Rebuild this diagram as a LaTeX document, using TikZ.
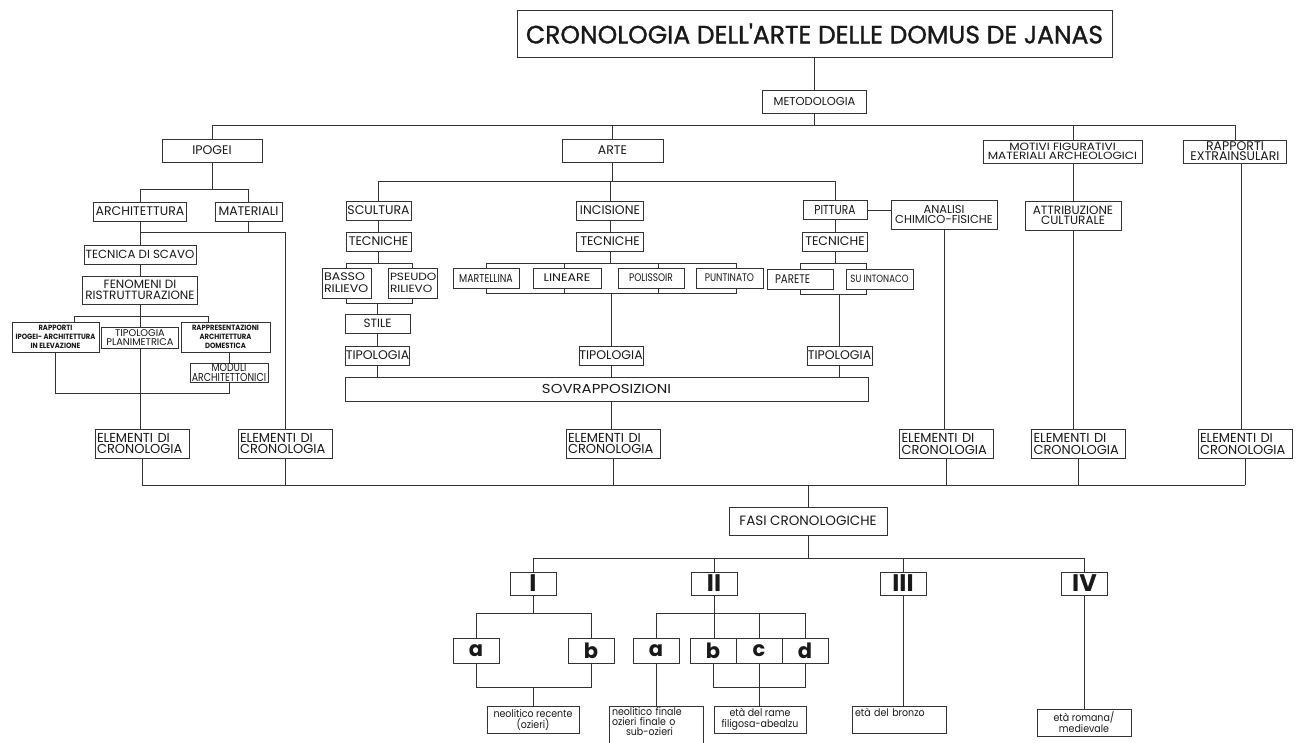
\documentclass[tikz,border=0pt]{standalone}
\usepackage{fontspec}
\usetikzlibrary{calc}
\newfontfamily\ffR{Poppins}
\newfontfamily\ffA[FakeStretch=0.7]{Poppins}
\newfontfamily\ffC[FakeStretch=0.82]{Poppins}
\newfontfamily\ffN[FakeStretch=0.9]{Poppins}
\newfontfamily\ffW[FakeStretch=1.15]{Poppins}
\newfontfamily\ffT[FakeBold=1.2]{Poppins}
\newcommand\fsz[2]{\fontsize{#1}{#2}\selectfont}
\begin{document}
\begin{tikzpicture}[x=1pt,y=-1pt,
  box/.style={draw=black!80, line width=0.8pt, rectangle, inner sep=0pt, align=center, text=black!90},
  sz/.style 2 args={minimum width=#1, minimum height=#2},
  tiny/.style={font=\ffN\bfseries\fsz{7.6}{9}},
  rom/.style={font=\ffR\bfseries\fsz{24}{24}},
  lett/.style={font=\ffR\bfseries\fsz{21}{21}},
  low/.style={font=\ffN\fsz{10.5}{11}},
  elem/.style={box, text width=90pt, inner xsep=2pt, minimum height=29pt, align=left, font=\ffR\fsz{13}{11.5}},
  ln/.style={draw=black!80, line width=0.8pt}
]
\fill[white] (0,0) rectangle (1296,742);
\useasboundingbox (0,0) rectangle (1296,742);
\clip (0,0) rectangle (1296,742);

% ---------- top ----------
\node[box, sz={595}{47}, font=\ffT\fsz{25}{30}] (title) at (814.5,33.5) {CRONOLOGIA DELL'ARTE DELLE DOMUS DE JANAS};
\node[box, sz={104}{23}, font=\ffR\fsz{11.5}{11.5}] (meto) at (814.5,101.5) {METODOLOGIA};
\node[box, sz={100}{23}, font=\ffR\fsz{12.5}{12.5}] (ipogei) at (212,150.5) {IPOGEI};
\node[box, sz={101}{23}, font=\ffR\fsz{12.5}{12.5}] (arte) at (612.5,150.5) {ARTE};
\node[box, sz={159}{23}, font=\ffW\fsz{10.5}{9}] (motivi) at (1062.5,151.5) {MOTIVI FIGURATIVI\\MATERIALI ARCHEOLOGICI};
\node[box, sz={103}{23}, font=\ffR\fsz{12.5}{10}] (rapporti) at (1235,151.5) {RAPPORTI\\EXTRAINSULARI};

% ---------- ipogei ----------
\node[box, sz={93}{19}, font=\ffR\fsz{12.5}{12.5}] (arch) at (140,211.5) {ARCHITETTURA};
\node[box, sz={67}{19}, font=\ffR\fsz{12.5}{12.5}] (mat) at (248.5,211.5) {MATERIALI};
\node[box, sz={112}{19}, font=\ffR\fsz{11.8}{11.8}] (tecnica) at (140,254.5) {TECNICA DI SCAVO};
\node[box, sz={115}{28}, font=\ffR\fsz{12}{11.5}] (fenom) at (140,290) {FENOMENI DI\\RISTRUTTURAZIONE};
\node[box, sz={87}{30}, tiny] (rapp) at (55.5,337) {RAPPORTI\\IPOGEI- ARCHITETTURA\\IN ELEVAZIONE};
\node[box, sz={77}{21}, font=\ffR\fsz{9.8}{9.5}] (tipol) at (140,337.5) {TIPOLOGIA\\PLANIMETRICA};
\node[box, sz={89}{30}, tiny] (rappr) at (225.5,337) {RAPPRESENTAZIONI\\ARCHITETTURA\\DOMESTICA};
\node[box, sz={78}{19}, font=\ffC\fsz{11.5}{9.5}] (moduli) at (229,372.5) {MODULI\\ARCHITETTONICI};
\node[elem] (elem1) at (142,443.5) {ELEMENTI DI\\CRONOLOGIA};
\node[elem] (elem2) at (285,443.5) {ELEMENTI DI\\CRONOLOGIA};

% ---------- arte ----------
\node[box, sz={65}{19}, font=\ffR\fsz{12.5}{12.5}] (scult) at (378.5,210.5) {SCULTURA};
\node[box, sz={67}{19}, font=\ffR\fsz{12.5}{12.5}] (incis) at (610,210.5) {INCISIONE};
\node[box, sz={64}{19}, font=\ffC\fsz{13}{13}] (pitt) at (835,210) {PITTURA};
\node[box, sz={65}{19}, font=\ffR\fsz{12.5}{12.5}] (tec1) at (378.5,241.5) {TECNICHE};
\node[box, sz={67}{19}, font=\ffR\fsz{12.5}{12.5}] (tec2) at (610,241.5) {TECNICHE};
\node[box, sz={65}{19}, font=\ffR\fsz{12.5}{12.5}] (tec3) at (835,241.5) {TECNICHE};
\node[box, text width=45pt, inner xsep=2pt, minimum height=30pt, align=left, font=\ffW\fsz{11}{12}] (basso) at (346.5,283) {BASSO\\RILIEVO};
\node[box, text width=45pt, inner xsep=2pt, minimum height=30pt, align=left, font=\ffW\fsz{10.5}{12}] (pseudo) at (412.5,283) {PSEUDO\\RILIEVO};
\node[box, sz={65}{19}, font=\ffR\fsz{12}{12}] (stile) at (377.5,323.5) {STILE};
\node[box, sz={63}{19}, font=\ffR\fsz{12.5}{12.5}] (tipo1) at (377.5,355.5) {TIPOLOGIA};
\node[box, sz={66}{20}, font=\ffC\fsz{11.5}{11.5}] (martel) at (486,278) {MARTELLINA};
\node[box, sz={68}{20}, font=\ffW\fsz{11}{11}] (lineare) at (567,278) {LINEARE};
\node[box, sz={66}{20}, font=\ffC\fsz{11}{11}] (poliss) at (651,278) {POLISSOIR};
\node[box, sz={67}{20}, font=\ffC\fsz{11}{11}] (puntin) at (729.5,278) {PUNTINATO};
\node[box, text width=50pt, inner xsep=8pt, minimum height=20pt, align=left, font=\ffC\fsz{12.5}{12.5}] (parete) at (800,279) {PARETE};
\node[box, sz={67}{20}, font=\ffC\fsz{10.5}{10.5}] (suinton) at (879.5,279) {SU INTONACO};
\node[box, sz={64}{19}, font=\ffR\fsz{12.5}{12.5}] (tipo2) at (611,355.5) {TIPOLOGIA};
\node[box, sz={65}{19}, font=\ffR\fsz{12.5}{12.5}] (tipo3) at (839.5,355.5) {TIPOLOGIA};
\node[box, sz={523}{24}, font=\ffW\fsz{13}{13}] (sovr) at (606.5,389) {SOVRAPPOSIZIONI};
\node[elem] (elem3) at (613,443.5) {ELEMENTI DI\\CRONOLOGIA};
\node[box, sz={106}{29}, font=\ffR\fsz{11.5}{10}] (analisi) at (944,214.5) {ANALISI\\CHIMICO-FISICHE};
\node[elem] (elem4) at (946.5,444) {ELEMENTI DI\\CRONOLOGIA};
\node[box, sz={96}{29}, font=\ffR\fsz{12}{10}] (attr) at (1073,215.5) {ATTRIBUZIONE\\CULTURALE};
\node[elem] (elem5) at (1078.5,444) {ELEMENTI DI\\CRONOLOGIA};
\node[elem] (elem6) at (1245,444) {ELEMENTI DI\\CRONOLOGIA};

% ---------- fasi ----------
\node[box, sz={158}{28}, font=\ffR\fsz{13.5}{13.5}] (fasi) at (808,521) {FASI CRONOLOGICHE};
\node[box, sz={46}{23}, rom] (f1) at (533,583.5) {I};
\node[box, sz={46}{23}, rom] (f2) at (714,583.5) {II};
\node[box, sz={46}{23}, rom] (f3) at (903,583.5) {III};
\node[box, sz={46}{23}, rom] (f4) at (1084.5,583.5) {IV};
\node[box, sz={46}{25}, lett] (aI) at (476,650.5) {a};
\node[box, sz={46}{25}, lett] (bI) at (591,650.5) {b};
\node[box, sz={46}{25}, lett] (aII) at (656,650.5) {a};
\node[box, sz={46}{25}, lett] (bII) at (713,650.5) {b};
\node[box, sz={46}{25}, lett] (cII) at (759,650.5) {c};
\node[box, sz={46}{25}, lett] (dII) at (805,650.5) {d};
\node[box, sz={92}{27}, low] (neorec) at (533,719.5) {neolitico recente\\(ozieri)};
\node[anchor=north, text width=89pt, inner xsep=2pt, inner ysep=1.5pt, align=left, font=\ffN\fsz{10.5}{10}, text=black!90] (neofin) at (656.5,706) {neolitico finale\\ozieri finale o\\\hspace*{14pt}sub-ozieri};
\draw[ln] (neofin.north west) rectangle ($(neofin.north east)+(0,50)$);
\node[box, sz={92}{27}, low] (rame) at (760,719.5) {età del rame\\filigosa-abealzu};
\node[box, text width=88pt, inner xsep=3pt, minimum height=27pt, align=left, low] (bronzo) at (899,719.5) {età del bronzo\\[4pt]\mbox{}};
\node[box, sz={94}{27}, low] (romana) at (1084,722.5) {età romana/\\medievale};

% ---------- connectors: top ----------
\coordinate (tb) at (0,125);
\draw[ln] (title.south) -- (meto.north);
\draw[ln] (meto.south) -- (meto.south|-tb);
\draw[ln] (ipogei.north|-tb) -- (rapporti.north|-tb);
\draw[ln] (ipogei.north|-tb) -- (ipogei.north);
\draw[ln] (arte.north|-tb) -- (arte.north);
\draw[ln] (attr.north|-tb) -- (attr.north|-motivi.north);
\draw[ln] (rapporti.north|-tb) -- (rapporti.north);

% ipogei
\coordinate (ib) at (0,189);
\coordinate (mb2) at (0,232);
\coordinate (fb) at (0,316);
\coordinate (lb) at (0,393);
\draw[ln] (ipogei.south) -- (ipogei.south|-ib);
\draw[ln] (arch.north|-ib) -- (mat.north|-ib);
\draw[ln] (arch.north|-ib) -- (arch.north);
\draw[ln] (mat.north|-ib) -- (mat.north);
\draw[ln] (arch.south) -- (tecnica.north);
\draw[ln] (mat.south) -- (mat.south|-mb2);
\draw[ln] (arch.south|-mb2) -- (elem2.north|-mb2) -- (elem2.north);
\draw[ln] (tecnica.south) -- (fenom.north);
\draw[ln] (fenom.south) -- (tipol.north);
\draw[ln] ($(rapp.north)+(18.5,0)$) |- ($(rappr.north|-fb)+(-17.5,0)$) -- ($(rappr.north)+(-17.5,0)$);
\draw[ln] (rappr.south-|moduli.north) -- (moduli.north);
\draw[ln] (rapp.south) -- (rapp.south|-lb) -- (moduli.south|-lb) -- (moduli.south);
\draw[ln] (tipol.south) -- (tipol.south|-elem1.north);

% arte
\coordinate (ab) at (0,181);
\coordinate (st) at (0,263);
\coordinate (sb) at (0,303);
\coordinate (ibt) at (0,293);
\coordinate (pbt) at (0,294);
\draw[ln] (arte.south) -- (arte.south|-ab);
\draw[ln] (scult.north|-ab) -- (pitt.north|-ab);
\draw[ln] (scult.north|-ab) -- (scult.north);
\draw[ln] (incis.north|-ab) -- (incis.north);
\draw[ln] (pitt.north|-ab) -- (pitt.north);
\draw[ln] (scult) -- (tec1);
\draw[ln] (incis) -- (tec2);
\draw[ln] (pitt) -- (tec3);
\draw[ln] (pitt.east) -- (pitt.east-|analisi.west);
% scultura frame
\draw[ln] (tec1.south) -- (tec1.south|-st);
\draw[ln] (basso.north) -- (basso.north|-st) -- (pseudo.north|-st) -- (pseudo.north);
\draw[ln] (basso.south) -- (basso.south|-sb) -- (pseudo.south|-sb) -- (pseudo.south);
\draw[ln] (stile.north|-sb) -- (stile.north);
\draw[ln] (stile) -- (tipo1);
% incisione frame
\draw[ln] (tec2.south) -- (tec2.south|-st);
\draw[ln] (martel.north) -- (martel.north|-st) -- ($(puntin.north|-st)+(6.5,0)$) -- ($(puntin.north)+(6.5,0)$);
\draw[ln] ($(lineare.north|-st)+(-3,0)$) -- ($(lineare.north)+(-3,0)$);
\draw[ln] ($(poliss.north|-st)+(7,0)$) -- ($(poliss.north)+(7,0)$);
\draw[ln] (martel.south) -- (martel.south|-ibt) -- ($(puntin.south|-ibt)+(6.5,0)$) -- ($(puntin.south)+(6.5,0)$);
\draw[ln] ($(lineare.south|-ibt)+(-3,0)$) -- ($(lineare.south)+(-3,0)$);
\draw[ln] ($(poliss.south|-ibt)+(7,0)$) -- ($(poliss.south)+(7,0)$);
\draw[ln] (tipo2.north|-ibt) -- (tipo2.north);
% pittura frame
\draw[ln] (tec3.south) -- (tec3.south|-st);
\draw[ln] (parete.north) -- (parete.north|-st) -- ($(suinton.north west|-st)+(21,0)$) -- ($(suinton.north west)+(21,0)$);
\draw[ln] (parete.south) -- (parete.south|-pbt) -- ($(suinton.south west|-pbt)+(21,0)$) -- ($(suinton.south west)+(21,0)$);
\draw[ln] (tipo3.north|-pbt) -- (tipo3.north);
% sovrapposizioni
\draw[ln] (tipo1.south) -- (tipo1.south|-sovr.north);
\draw[ln] (tipo2.south) -- (tipo2.south|-sovr.north);
\draw[ln] (tipo3.south) -- (tipo3.south|-sovr.north);
\draw[ln] (tipo2.south|-sovr.south) -- (tipo2.south|-elem3.north);
% right branches
\draw[ln] (analisi.south) -- (analisi.south|-elem4.north);
\draw[ln] (attr.north|-motivi.south) -- (attr.north);
\draw[ln] (attr.south) -- (attr.south|-elem5.north);
\draw[ln] ($(rapporti.south)+(6,0)$) -- ($(rapporti.south|-elem6.north)+(6,0)$);

% main bus
\coordinate (mb) at (0,485);
\foreach \e in {elem1,elem2,elem3,elem4,elem5,elem6}
  \draw[ln] (\e.south) -- (\e.south|-mb);
\draw[ln] (elem1.south|-mb) -- (elem6.south|-mb);
\draw[ln] (fasi.north|-mb) -- (fasi.north);

% fasi
\coordinate (fb2) at (0,558);
\coordinate (b3) at (0,613);
\coordinate (b4) at (0,687);
\draw[ln] (fasi.south) -- (fasi.south|-fb2);
\draw[ln] (f1.north|-fb2) -- (f4.north|-fb2);
\foreach \f in {f1,f2,f3,f4}
  \draw[ln] (\f.north|-fb2) -- (\f.north);
% I
\draw[ln] (f1.south) -- (f1.south|-b3);
\draw[ln] (aI.north) -- (aI.north|-b3) -- (bI.north|-b3) -- (bI.north);
\draw[ln] (aI.south) -- (aI.south|-b4) -- (bI.south|-b4) -- (bI.south);
\draw[ln] (neorec.north|-b4) -- (neorec.north);
% II
\draw[ln] (f2.south) -- (f2.south|-bII.north);
\draw[ln] (aII.north) -- (aII.north|-b3) -- (dII.north|-b3) -- (dII.north);
\draw[ln] (cII.north|-b3) -- (cII.north);
\draw[ln] (aII.south) -- (aII.south|-neofin.north);
\draw[ln] (bII.south) -- (bII.south|-b4) -- (dII.south|-b4) -- (dII.south);
\draw[ln] (cII.south) -- (cII.south|-rame.north);
% III, IV
\draw[ln] (f3.south) -- (f3.south|-bronzo.north);
\draw[ln] (f4.south) -- (f4.south|-romana.north);
\end{tikzpicture}
\end{document}
